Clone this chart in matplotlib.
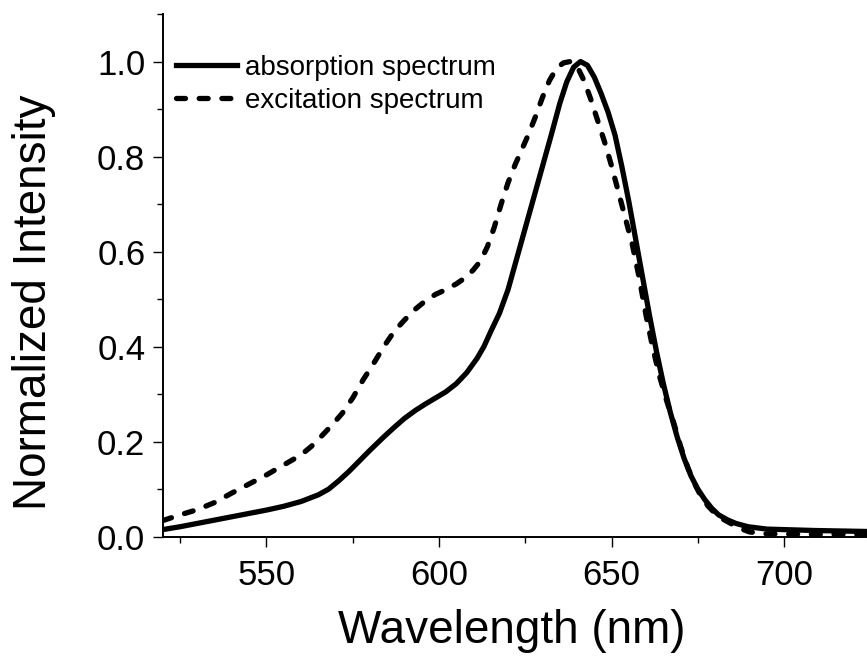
import matplotlib
matplotlib.use("Agg")
import matplotlib.pyplot as plt
from matplotlib.ticker import MultipleLocator, FormatStrFormatter
from matplotlib.lines import Line2D

plt.rcParams['font.family'] = ['Liberation Sans', 'DejaVu Sans']

# Absorption spectrum (solid)
abs_wl = [520, 525, 530, 535, 540, 545, 550, 555, 560, 565, 568, 571, 574, 577, 580,
          584, 587, 590, 593, 596, 599, 602, 605, 608, 611, 613, 615, 617.5, 620, 622.5,
          625, 627.5, 630, 632.5, 635, 637, 639, 641, 643, 645, 647, 649, 651, 653, 655,
          657, 659, 661, 663, 665, 667, 669, 671, 673, 675, 677, 679, 681, 683.7, 686,
          689.5, 695, 709, 724]
abs_int = [0.015, 0.021, 0.028, 0.035, 0.042, 0.049, 0.056, 0.064, 0.074, 0.088, 0.1,
           0.118, 0.138, 0.16, 0.182, 0.21, 0.23, 0.249, 0.265, 0.279, 0.292, 0.305, 0.322,
           0.345, 0.375, 0.4, 0.432, 0.47, 0.52, 0.585, 0.65, 0.715, 0.78, 0.845, 0.912,
           0.957, 0.988, 1.0, 0.992, 0.967, 0.932, 0.893, 0.845, 0.778, 0.705, 0.625, 0.545,
           0.465, 0.39, 0.322, 0.262, 0.21, 0.165, 0.128, 0.1, 0.078, 0.06, 0.046, 0.035,
           0.028, 0.021, 0.016, 0.013, 0.011]

# Excitation spectrum (dashed)
exc_wl = [520, 525, 530, 535, 540, 545, 550, 555, 560, 563, 566, 569, 572, 575, 578, 581,
          584, 587, 590, 593, 596, 599, 602, 605, 608, 610, 612, 614, 616, 618, 620, 622,
          624, 626, 628, 630, 632, 634, 636, 638, 640, 642, 644, 646, 648, 650, 652, 654,
          656, 658, 660, 662, 664, 666, 668, 670, 672, 674, 676, 678, 680, 682, 684, 687,
          690, 695, 710, 724]
exc_int = [0.034, 0.046, 0.057, 0.072, 0.092, 0.111, 0.13, 0.151, 0.172, 0.19, 0.212,
           0.235, 0.26, 0.292, 0.33, 0.364, 0.4, 0.432, 0.456, 0.478, 0.496, 0.51, 0.52,
           0.532, 0.547, 0.562, 0.58, 0.61, 0.651, 0.7, 0.745, 0.782, 0.815, 0.848, 0.885,
           0.925, 0.96, 0.985, 0.997, 1.0, 0.99, 0.96, 0.92, 0.875, 0.83, 0.78, 0.725, 0.67,
           0.615, 0.545, 0.465, 0.395, 0.335, 0.285, 0.24, 0.19, 0.147, 0.112, 0.084, 0.064,
           0.049, 0.038, 0.03, 0.018, 0.01, 0.006, 0.005, 0.005]

labels = ["absorption spectrum", "excitation spectrum"]

LW = 3.8
DASH = (1.7, 2.6)

fig = plt.figure(figsize=(8.67, 6.59), dpi=100)
ax = fig.add_axes([162.9 / 867, (659 - 536.7) / 659, (867 - 162.9) / 867, (536.7 - 14) / 659])

ax.plot(abs_wl, abs_int, color='black', lw=LW, solid_joinstyle='round',
        solid_capstyle='butt', label=labels[0])
ax.plot(exc_wl, exc_int, color='black', lw=LW, dashes=DASH,
        dash_capstyle='round', dash_joinstyle='round', label=labels[1])

ax.set_xlim(520, 724)
ax.set_ylim(0, 1.1)

for s in ['top', 'right']:
    ax.spines[s].set_visible(False)
for s in ['left', 'bottom']:
    ax.spines[s].set_linewidth(1.4)

ax.xaxis.set_major_locator(MultipleLocator(50))
ax.xaxis.set_minor_locator(MultipleLocator(25))
ax.yaxis.set_major_locator(MultipleLocator(0.2))
ax.yaxis.set_minor_locator(MultipleLocator(0.1))
ax.yaxis.set_major_formatter(FormatStrFormatter('%.1f'))

ax.tick_params(axis='both', which='major', direction='out', length=7.2, width=1.0,
               labelsize=25)
ax.tick_params(axis='both', which='minor', direction='out', length=4.3, width=1.0)
ax.tick_params(axis='x', which='major', pad=9)
ax.tick_params(axis='y', which='major', pad=5.5)

ax.set_xlabel("Wavelength (nm)", fontsize=33)
ax.set_ylabel("Normalized Intensity", fontsize=33)
ax.xaxis.set_label_coords(0.496, -0.139)
ax.yaxis.set_label_coords(-0.152, 0.448)

handles = [Line2D([], [], color='black', lw=LW),
           Line2D([], [], color='black', lw=LW, dashes=DASH, dash_capstyle='round')]
ax.legend(handles, labels, loc='upper left', bbox_to_anchor=(0.0179, 0.922),
          frameon=False, borderpad=0, borderaxespad=0, handlelength=2.23,
          handletextpad=0.27, labelspacing=0.26, fontsize=20)

fig.savefig("out.png", dpi=100)
